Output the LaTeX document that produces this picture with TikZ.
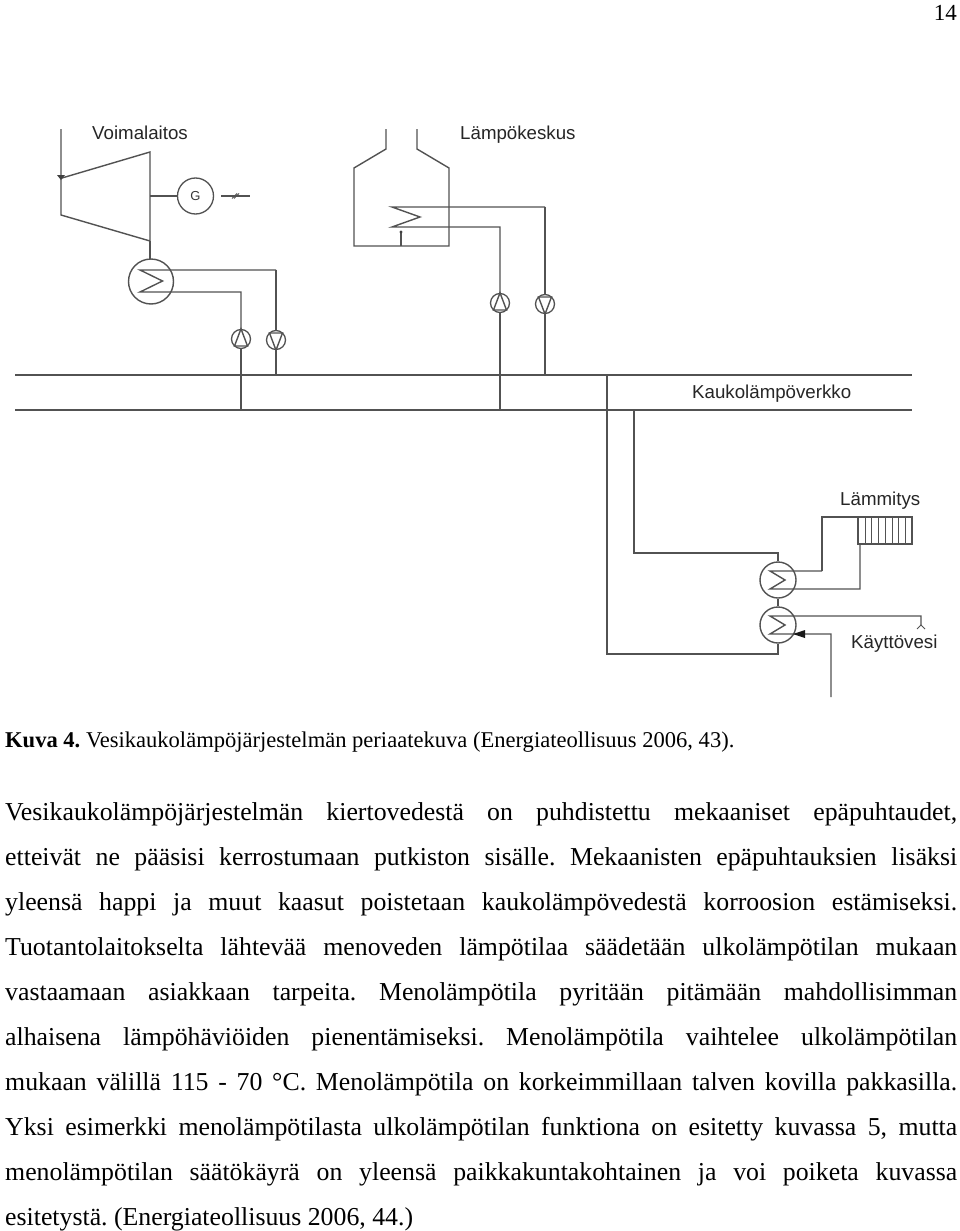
\documentclass[tikz,border=0pt]{standalone}
\usepackage{fontspec}
\setmainfont{Liberation Serif}
\newfontfamily\diagfont{Liberation Sans}
\usetikzlibrary{arrows.meta}
\colorlet{pipecol}{black!68}
\tikzset{
  pipe/.style={draw=pipecol,line width=1.4pt,line join=miter},
  lbl/.style={font=\diagfont\fontsize{18.7}{22}\selectfont,text=black!85,inner sep=0pt,anchor=base west},
  hx/.style={circle,draw=pipecol,line width=1.4pt,inner sep=0pt,minimum size=36pt},
  pumpc/.style={circle,draw=pipecol,line width=1.3pt,inner sep=0pt,minimum size=19pt},
  tline/.style={inner sep=0pt,anchor=base west,font=\fontsize{25.8}{30}\selectfont},
  capline/.style={inner sep=0pt,anchor=base west,font=\fontsize{22.55}{26}\selectfont},
}
\newcommand{\jline}[3]{\node[tline] (#1) at (5,#2) {\frenchspacing\makebox[952pt][s]{#3}};}
\newcommand{\pline}[3]{\node[tline] (#1) at (5,#2) {\frenchspacing #3};}
\begin{document}
\begin{tikzpicture}[x=1pt,y=-1pt]
\useasboundingbox (0,0) rectangle (960,1231);
\fill[white] (0,0) rectangle (960,1231);
\node[tline,anchor=base east,font=\fontsize{23}{26}\selectfont] (pg) at (957,21) {14};
% labels
\node[lbl] (lv) at (92,139) {Voimalaitos};
\node[lbl] (ll) at (460,139) {Lämpökeskus};
\node[lbl] (lk) at (692,398) {Kaukolämpöverkko};
\node[lbl] (lm) at (840,505) {Lämmitys};
\node[lbl] (lw) at (851,648) {Käyttövesi};
% main pipes
\coordinate (m1a) at (15,375); \coordinate (m1b) at (912,375);
\coordinate (m2a) at (15,410); \coordinate (m2b) at (912,410);
\draw[pipe] (m1a)--(m1b); \draw[pipe] (m2a)--(m2b);
% turbine
\draw[pipe] (61,129)--(61,215)--(150,241)--(150,152)--(62,178);
\fill[black!75] (57,175)--(65,175)--(61,180)--cycle;
\node[circle,draw=pipecol,line width=1.3pt,minimum size=36pt,inner sep=0pt,font=\diagfont\fontsize{13}{15}\selectfont,text=black!78] (gen) at (195.5,196) {G};
\draw[pipe] (150,196)--(gen);
\coordinate (genout) at (250,196);
\draw[pipe] (221,196)--(genout);
\draw[pipecol,line width=.8pt] (232,198.5)--(237,193.5) (234,198.5)--(239,193.5);
% condenser
\node[hx,minimum size=45pt] (cond) at (151,281.5) {};
\draw[pipe] (150,241)--(150,259);
\node[pumpc] (p1) at (241,339) {};
\node[pumpc] (p2) at (276,340) {};
\draw[pipe] (276,270)--(140,270)--(162.5,281)--(140,292)--(241,292)--(p1);
\draw[pipe] (276,270)--(p2);
\draw[pipe] (p1)--(241,410);
\draw[pipe] (p2)--(276,375);
\draw[pipe] (p1.north)--(234.5,346)--(247.5,346)--cycle;
\draw[pipe] (p2.south)--(269.5,333)--(282.5,333)--cycle;
% boiler
\draw[pipe] (386,129)--(386,149)--(354,168)--(354,246)--(449,246)--(449,168)--(417,149)--(417,129);
\draw[pipe] (401,246)--(401,232);
\fill[black!75] (401,232) circle (1.6);
\node[pumpc] (p3) at (500,303) {};
\node[pumpc] (p4) at (545,304) {};
\draw[pipe] (545,207)--(392,207)--(420,217)--(392,227)--(500,227)--(p3);
\draw[pipe] (545,207)--(p4);
\draw[pipe] (p3)--(500,410);
\draw[pipe] (p4)--(545,375);
\draw[pipe] (p3.north)--(493.5,310)--(506.5,310)--cycle;
\draw[pipe] (p4.south)--(538.5,297)--(551.5,297)--cycle;
% consumer
\node[hx] (h1) at (778,580) {};
\node[hx] (h2) at (778,625) {};
\draw[pipe] (634,410)--(634,553)--(778,553)--(h1);
\draw[pipe] (607,375)--(607,654)--(778,654)--(h2);
\draw[pipe] (h1)--(h2);
\draw[pipe] (822,571)--(770,571)--(785,580)--(770,589)--(860,589)--(860,544);
\draw[pipe] (822,571)--(822,517)--(858,517);
\node[draw=pipecol,line width=1.3pt,minimum width=54pt,minimum height=27pt,inner sep=0pt] (rad) at (885,530.5) {};
\foreach \x in {865,871.5,878,885,892,898.5,905}{\draw[pipecol,line width=1pt] (\x,517)--(\x,544);}
\draw[pipe] (921,625)--(921,616)--(770,616)--(785,625)--(770,634)--(831,634)--(831,697);
\draw[pipecol,line width=1pt] (917,629)--(921,625)--(925,629);
\fill[black!90] (793,634)--(805,630)--(805,638)--cycle;
% text
\node[capline] (c) at (5,747) {\frenchspacing\textbf{Kuva 4.} Vesikaukolämpöjärjestelmän periaatekuva (Energiateollisuus 2006, 43).};
\jline{t1}{820}{Vesikaukolämpöjärjestelmän kiertovedestä on puhdistettu mekaaniset epäpuhtaudet,}
\jline{t2}{865}{etteivät ne pääsisi kerrostumaan putkiston sisälle. Mekaanisten epäpuhtauksien lisäksi}
\jline{t3}{910}{yleensä happi ja muut kaasut poistetaan kaukolämpövedestä korroosion estämiseksi.}
\jline{t4}{955}{Tuotantolaitokselta lähtevää menoveden lämpötilaa säädetään ulkolämpötilan mukaan}
\jline{t5}{1000}{vastaamaan asiakkaan tarpeita. Menolämpötila pyritään pitämään mahdollisimman}
\jline{t6}{1045}{alhaisena lämpöhäviöiden pienentämiseksi. Menolämpötila vaihtelee ulkolämpötilan}
\jline{t7}{1090}{mukaan välillä 115 - 70 °C. Menolämpötila on korkeimmillaan talven kovilla pakkasilla.}
\jline{t8}{1135}{Yksi esimerkki menolämpötilasta ulkolämpötilan funktiona on esitetty kuvassa 5, mutta}
\jline{t9}{1180}{menolämpötilan säätökäyrä on yleensä paikkakuntakohtainen ja voi poiketa kuvassa}
\pline{t10}{1225}{esitetystä. (Energiateollisuus 2006, 44.)}
\end{tikzpicture}
\end{document}
